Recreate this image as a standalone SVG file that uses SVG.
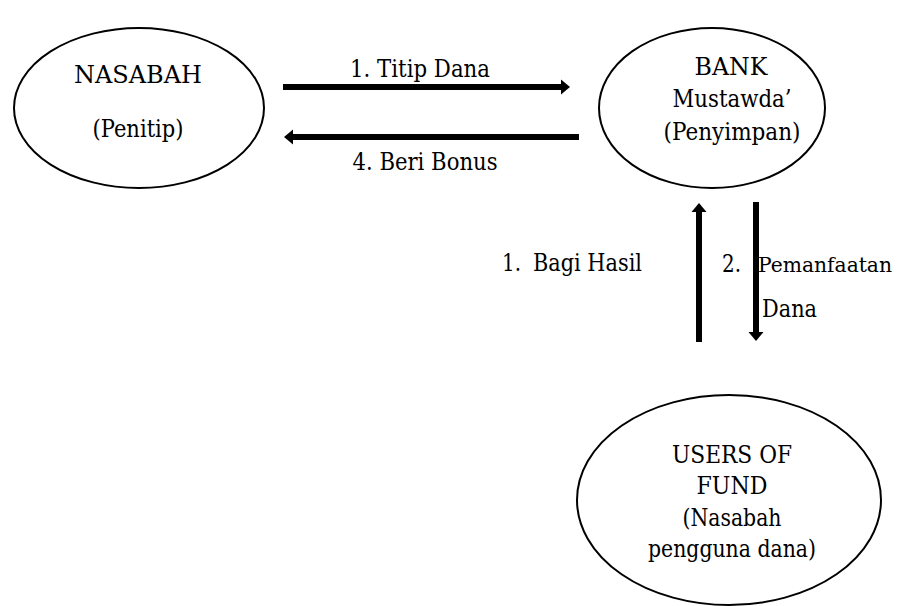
<svg xmlns="http://www.w3.org/2000/svg" width="909" height="606" viewBox="0 0 909 606">
<style>
.node ellipse{fill:#fff;stroke:#000;stroke-width:2}
text{font-family:"DejaVu Serif",serif;font-size:24px;fill:#000}
.c{text-anchor:middle}
.conn line{stroke:#000;stroke-width:6}
</style>
<defs>
<marker id="ah" markerUnits="userSpaceOnUse" markerWidth="10" markerHeight="16" refX="1" refY="8" orient="auto">
<path d="M0,0.5 L9,8 L0,15.5 z" fill="#000"/>
</marker>
</defs>
<rect width="909" height="606" fill="#fff"/>
<g id="connectors" class="conn">
<line x1="283" y1="87" x2="562" y2="87" marker-end="url(#ah)"/>
<line x1="579" y1="137" x2="292" y2="137" marker-end="url(#ah)"/>
<line x1="699" y1="342" x2="699" y2="211" marker-end="url(#ah)"/>
<line x1="756" y1="202" x2="756" y2="333" marker-end="url(#ah)"/>
</g>
<g id="labels">
<text class="c" x="420" y="77" textLength="140" lengthAdjust="spacingAndGlyphs">1. Titip Dana</text>
<text class="c" x="425" y="170" textLength="145" lengthAdjust="spacingAndGlyphs">4. Beri Bonus</text>
<text x="502" y="271" textLength="19" lengthAdjust="spacingAndGlyphs">1.</text>
<text x="533" y="271" textLength="109" lengthAdjust="spacingAndGlyphs">Bagi Hasil</text>
<text x="722" y="272" textLength="19" lengthAdjust="spacingAndGlyphs">2.</text>
<text x="758" y="272" style="font-size:21px" textLength="134" lengthAdjust="spacingAndGlyphs">Pemanfaatan</text>
<text x="762" y="317" textLength="55" lengthAdjust="spacingAndGlyphs">Dana</text>
</g>
<g id="nasabah" class="node">
<ellipse cx="139" cy="108" rx="125" ry="80"/>
<text class="c" x="138" y="83" textLength="128" lengthAdjust="spacingAndGlyphs">NASABAH</text>
<text class="c" x="138" y="137" textLength="91" lengthAdjust="spacingAndGlyphs">(Penitip)</text>
</g>
<g id="bank" class="node">
<ellipse cx="712" cy="108" rx="113" ry="80"/>
<text class="c" x="731" y="75" textLength="73" lengthAdjust="spacingAndGlyphs">BANK</text>
<text class="c" x="732" y="107" textLength="119" lengthAdjust="spacingAndGlyphs">Mustawda’</text>
<text class="c" x="732" y="140" textLength="137" lengthAdjust="spacingAndGlyphs">(Penyimpan)</text>
</g>
<g id="users" class="node">
<ellipse cx="729" cy="500" rx="152" ry="105"/>
<text class="c" x="732" y="463" textLength="120" lengthAdjust="spacingAndGlyphs">USERS OF</text>
<text class="c" x="732" y="494" textLength="71" lengthAdjust="spacingAndGlyphs">FUND</text>
<text class="c" x="732" y="526" textLength="99" lengthAdjust="spacingAndGlyphs">(Nasabah</text>
<text class="c" x="732" y="557" textLength="168" lengthAdjust="spacingAndGlyphs">pengguna dana)</text>
</g>
</svg>
